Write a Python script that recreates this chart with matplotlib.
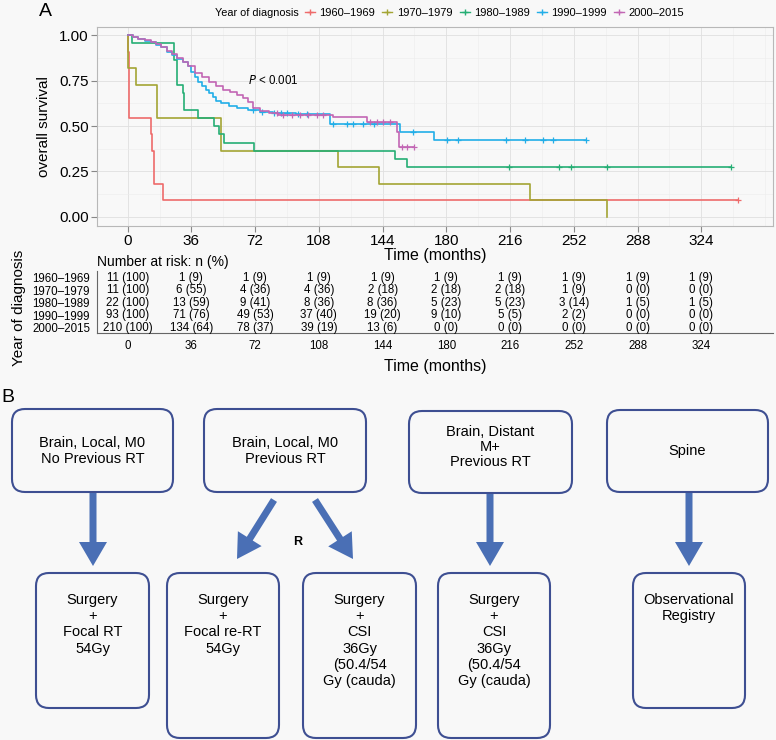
import numpy as np
import matplotlib
matplotlib.use('Agg')
import matplotlib.pyplot as plt
from matplotlib.lines import Line2D
from matplotlib.patches import FancyBboxPatch, FancyArrow
from matplotlib.ticker import MultipleLocator

plt.rcParams['font.family'] = ['Liberation Sans', 'DejaVu Sans']

W, H = 776, 740
BG = '#f8f8f8'

# groups
groups = ['1960–1969', '1970–1979', '1980–1989', '1990–1999', '2000–2015']
colors = ['#EE6B6B', '#A3A534', '#25AE74', '#22AEE8', '#C266B4']

# Kaplan-Meier step data (time in months, survival)
t_6069 = [0, 0.3, 0.6, 1.0, 13, 14, 15, 20]
s_6069 = [1.0, 0.909, 0.818, 0.545, 0.455, 0.364, 0.182, 0.091]
end_6069 = 345
cens_6069 = [345]

t_7079 = [0, 0.2, 4.5, 16.7, 53, 119, 142, 227, 271]
s_7079 = [1.0, 0.818, 0.727, 0.545, 0.364, 0.273, 0.182, 0.091, 0.0]
end_7079 = 271
cens_7079 = []

t_8089 = [0, 2.6, 26, 28, 31, 32, 40, 48.7, 51.5, 54.7, 71.6, 151, 157.7]
s_8089 = [1.0, 0.955, 0.864, 0.727, 0.682, 0.591, 0.545, 0.5, 0.455,
          0.409, 0.364, 0.318, 0.273]
end_8089 = 341
cens_8089 = [215.5, 243.7, 250.5, 271, 341]

t_9099 = [0, 3, 6, 10, 13, 16, 19, 22, 25, 28, 31, 34, 36, 38, 40, 42, 44, 46,
          48, 50, 53, 57, 62, 68, 75, 82, 95, 114.5, 154, 173]
s_9099 = [1.0, 0.99, 0.98, 0.97, 0.96, 0.946, 0.935, 0.91, 0.89, 0.87, 0.85,
          0.83, 0.80, 0.77, 0.74, 0.72, 0.70, 0.68, 0.66, 0.64, 0.625, 0.61,
          0.60, 0.59, 0.58, 0.57, 0.565, 0.51, 0.469, 0.423]
end_9099 = 259
cens_9099 = [71, 76, 82.5, 86.5, 90, 96, 101.5, 116, 124, 127.5, 133, 139,
             161, 180.4, 186.8, 213.9, 224.6, 234.6, 240.4, 259]

t_0015 = [0, 3, 6, 10, 13, 16, 19, 22, 25, 28, 31, 34, 38, 42, 46, 50, 54, 58,
          62, 65, 68, 71, 75, 80, 85, 116, 135, 152, 153]
s_0015 = [1.0, 0.99, 0.98, 0.975, 0.965, 0.95, 0.935, 0.915, 0.895, 0.875,
          0.855, 0.83, 0.79, 0.77, 0.745, 0.72, 0.70, 0.685, 0.67, 0.655, 0.63,
          0.60, 0.585, 0.57, 0.56, 0.548, 0.524, 0.469, 0.383]
end_0015 = 161.5
cens_0015 = [84.6, 88, 93, 97.6, 102, 107, 110.6, 137, 141, 144.5, 148.4,
             155, 157.8, 161.5]

curves = [
    (t_6069, s_6069, end_6069, cens_6069),
    (t_7079, s_7079, end_7079, cens_7079),
    (t_8089, s_8089, end_8089, cens_8089),
    (t_9099, s_9099, end_9099, cens_9099),
    (t_0015, s_0015, end_0015, cens_0015),
]

# number at risk
risk_times = [0, 36, 72, 108, 144, 180, 216, 252, 288, 324]
n_6069 = [11, 1, 1, 1, 1, 1, 1, 1, 1, 1]
p_6069 = [100, 9, 9, 9, 9, 9, 9, 9, 9, 9]
n_7079 = [11, 6, 4, 4, 2, 2, 2, 1, 0, 0]
p_7079 = [100, 55, 36, 36, 18, 18, 18, 9, 0, 0]
n_8089 = [22, 13, 9, 8, 8, 5, 5, 3, 1, 1]
p_8089 = [100, 59, 41, 36, 36, 23, 23, 14, 5, 5]
n_9099 = [93, 71, 49, 37, 19, 9, 5, 2, 0, 0]
p_9099 = [100, 76, 53, 40, 20, 10, 5, 2, 0, 0]
n_0015 = [210, 134, 78, 39, 13, 0, 0, 0, 0, 0]
p_0015 = [100, 64, 37, 19, 6, 0, 0, 0, 0, 0]
risk = [(n_6069, p_6069), (n_7079, p_7079), (n_8089, p_8089),
        (n_9099, p_9099), (n_0015, p_0015)]

# flowchart texts
top_texts = ['Brain, Local, M0\nNo Previous RT', 'Brain, Local, M0\nPrevious RT',
             'Brain, Distant\nM+\nPrevious RT', 'Spine']
bottom_texts = ['Surgery\n+\nFocal RT\n54Gy', 'Surgery\n+\nFocal re-RT\n54Gy',
                'Surgery\n+\nCSI\n36Gy\n(50.4/54\nGy (cauda)',
                'Surgery\n+\nCSI\n36Gy\n(50.4/54\nGy (cauda)',
                'Observational\nRegistry']

XLIM = (-17.3, 364.5)


def fig_rect(x0, y0, x1, y1):
    # pixel box (top-left origin) -> figure fraction rect
    return [x0 / W, 1 - y1 / H, (x1 - x0) / W, (y1 - y0) / H]


fig = plt.figure(figsize=(W / 100, H / 100), dpi=100, facecolor=BG)

# ---- KM plot ----
ax = fig.add_axes(fig_rect(97, 27, 773, 226))
ax.set_facecolor(BG)
for (t, s, end, cens), c in zip(curves, colors):
    tt = np.array(t + [end])
    ss = np.array(s + [s[-1]])
    ax.step(tt, ss, where='post', color=c, lw=1.2)
    if cens:
        idx = np.searchsorted(np.array(t), np.array(cens), side='right') - 1
        ax.plot(cens, np.array(s)[idx], ls='none', marker='+', ms=5, mew=0.9, color=c)

ax.set_xlim(*XLIM)
ax.set_ylim(-0.05, 1.045)
ax.set_xticks(risk_times)
ax.set_yticks([0, 0.25, 0.5, 0.75, 1.0])
ax.set_yticklabels(['0.00', '0.25', '0.50', '0.75', '1.00'])
ax.xaxis.set_minor_locator(MultipleLocator(18))
ax.yaxis.set_minor_locator(MultipleLocator(0.125))
ax.grid(which='major', color='#e0e0e0', lw=0.6)
ax.grid(which='minor', color='#ececec', lw=0.4)
ax.set_axisbelow(True)
for sp in ax.spines.values():
    sp.set_color('#b8b8b8')
    sp.set_linewidth(0.8)
ax.tick_params(which='major', length=4, color='#888888', labelsize=11, pad=2)
ax.tick_params(which='minor', length=0)
ax.set_ylabel('overall survival', fontsize=11, labelpad=6)
ax.set_xlabel('Time (months)', fontsize=11.5, labelpad=0)
ax.text(68, 0.75, r'$P$ < 0.001', fontsize=8.3, va='center')

# ---- risk table ----
axr = fig.add_axes(fig_rect(97, 271, 773, 333))
axr.set_facecolor(BG)
axr.set_xlim(*XLIM)
axr.set_ylim(4.4, -0.56)
for i, (n, p) in enumerate(risk):
    for tx, nv, pv in zip(risk_times, n, p):
        axr.text(tx, i, f'{nv} ({pv})', ha='center', va='center', fontsize=8.3)
axr.set_yticks(range(5))
axr.set_yticklabels(groups, fontsize=8.3)
axr.set_xticks(risk_times)
axr.tick_params(axis='x', length=0, labelsize=8.3, pad=5)
axr.tick_params(axis='y', length=0, pad=5)
for side in ['top', 'right']:
    axr.spines[side].set_visible(False)
for side in ['left', 'bottom']:
    axr.spines[side].set_color('#666666')
    axr.spines[side].set_linewidth(0.8)
axr.set_xlabel('Time (months)', fontsize=11.5, labelpad=5)
fig.text(97 / W, 1 - 262 / H, 'Number at risk: n (%)', fontsize=10, va='center')
fig.text(19 / W, 1 - 308 / H, 'Year of diagnosis', fontsize=11, rotation=90,
         ha='center', va='center')

# ---- legend ----
fig.text(215 / W, 1 - 13 / H, 'Year of diagnosis', fontsize=7.8, va='center')
handles = [Line2D([], [], color=c, lw=1, marker='+', ms=4) for c in colors]
fig.legend(handles, groups, ncol=5, loc='center left',
           bbox_to_anchor=(305 / W, 1 - 13 / H), frameon=False, fontsize=8,
           handlelength=0.9, handletextpad=0.4, columnspacing=0.65,
           borderaxespad=0, borderpad=0)

fig.text(45 / W, 1 - 12 / H, 'A', fontsize=14, va='center', ha='center')
fig.text(8 / W, 1 - 398 / H, 'B', fontsize=14, va='center', ha='center')

# ---- flowchart ----
axf = fig.add_axes([0, 0, 1, 1])
axf.set_xlim(0, W)
axf.set_ylim(H, 0)
axf.axis('off')
EDGE = '#3e4f92'
ARROW = '#4a6fb5'

top_boxes = [(12, 409, 173, 492), (204, 409, 366, 492), (409, 411, 572, 493), (607, 410, 768, 492)]
top_text_y = [451, 451, 447, 451]
top_spacing = [1.2, 1.2, 1.05, 1.2]
for (x0, y0, x1, y1), txt, ty, lsp in zip(top_boxes, top_texts, top_text_y, top_spacing):
    axf.add_patch(FancyBboxPatch((x0, y0), x1 - x0, y1 - y0,
                                 boxstyle='round,pad=0,rounding_size=13',
                                 fc=BG, ec=EDGE, lw=1.5))
    axf.text((x0 + x1) / 2, ty, txt, ha='center', va='center',
             fontsize=10.5, linespacing=lsp)

bottom_boxes = [(36, 573, 149, 708), (167, 573, 279, 738), (303, 573, 416, 738),
                (438, 573, 550, 738), (633, 573, 745, 708)]
for (x0, y0, x1, y1), txt in zip(bottom_boxes, bottom_texts):
    axf.add_patch(FancyBboxPatch((x0, y0), x1 - x0, y1 - y0,
                                 boxstyle='round,pad=0,rounding_size=13',
                                 fc=BG, ec=EDGE, lw=1.5))
    axf.text((x0 + x1) / 2, 593, txt, ha='center', va='top',
             fontsize=10.5, linespacing=1.2)

arrows = [(93, 493, 93, 566), (274, 500, 237, 559), (315, 500, 353, 559),
          (490, 494, 490, 566), (689, 493, 689, 566)]
for x0, y0, x1, y1 in arrows:
    axf.add_patch(FancyArrow(x0, y0, x1 - x0, y1 - y0, width=7, head_width=28,
                             head_length=24, length_includes_head=True,
                             color=ARROW, lw=0))
axf.text(298, 542, 'R', fontsize=9, fontweight='bold', ha='center', va='center')

fig.savefig('out.png', dpi=100, facecolor=BG)
